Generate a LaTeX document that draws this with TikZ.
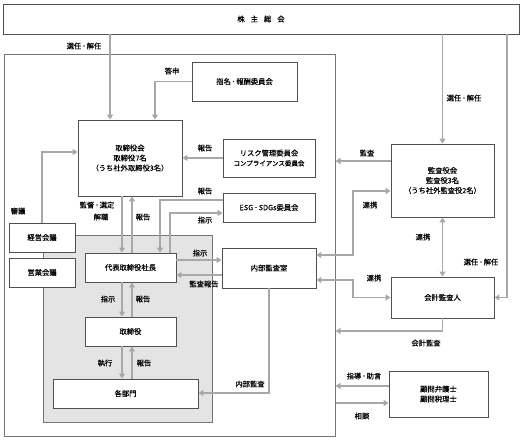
\documentclass[tikz,border=0pt]{standalone}
\usepackage{fontspec}
\newfontfamily\jp[FakeBold=0.35]{Noto Sans CJK JP}
\usetikzlibrary{arrows.meta}
\definecolor{boxc}{HTML}{505050}
\definecolor{outc}{HTML}{767676}
\definecolor{arrc}{HTML}{A8A8A8}
\definecolor{grayfill}{HTML}{E4E4E4}
\newcommand{\nd}{\kern0.9pt･\kern0.9pt}
\begin{document}
\begin{tikzpicture}[x=1pt,y=-1pt,
  box/.style 2 args={draw=boxc, line width=0.9pt, fill=white, minimum width=#1, minimum height=#2, inner sep=0pt, align=center, font=\jp\fontsize{7.3}{10}\selectfont},
  area/.style 2 args={draw=outc, line width=1pt, minimum width=#1, minimum height=#2, inner sep=0pt},
  lab/.style={font=\jp\fontsize{7.3}{9}\selectfont, inner sep=0pt, align=center},
  arr/.style={draw=arrc, line width=1.7pt, -{Triangle[length=5pt,width=6pt]}},
  arrb/.style={draw=arrc, line width=1.7pt, {Triangle[length=5pt,width=6pt]}-{Triangle[length=5pt,width=6pt]}}]
\useasboundingbox (0,0) rectangle (528,443);
% areas
\node[area={331}{382}] (co) at (169.5,246) {};
\node[area={169}{187}, fill=grayfill] (gray) at (127.5,329.5) {};
% boxes
\node[box={516}{30}] (kabu) at (261,19) {株\hspace{6pt}主\hspace{6pt}総\hspace{6pt}会};
\node[box={105}{39}] (shimei) at (244.5,81.5) {指名\nd 報酬委員会};
\node[box={104}{76}] (board) at (130,158) {取締役会\\取締役7名\\（うち社外取締役3名）};
\node[box={92}{38}] (risk) at (269,158) {リスク管理委員会\\{\fontsize{6.5}{8}\selectfont コンプライアンス委員会}};
\node[box={92}{29}] (esg) at (269,207.5) {ESG\nd SDGs委員会};
\node[box={103}{73}] (kansa) at (442.5,180.5) {監査役会\\監査役3名\\（うち社外監査役2名）};
\node[box={66}{29}] (keiei) at (42,237.5) {経営会議};
\node[box={66}{29}] (eigyo) at (42,272.5) {営業会議};
\node[box={91}{29}] (ceo) at (130.5,267.5) {代表取締役社長};
\node[box={94}{40}] (naibu) at (269,268) {内部監査室};
\node[box={103}{41}] (kaikei) at (442.5,297.5) {会計監査人};
\node[box={91}{29}] (director) at (130.5,331.5) {取締役};
\node[box={145}{29}] (bumon) at (125.5,393.5) {各部門};
\node[box={99}{46}] (komon) at (438.5,394) {顧問弁護士\\顧問税理士};
% guide coordinates
\coordinate (gx42) at (42,0);
\coordinate (gx110) at (110,0);
\coordinate (gx122) at (122,0);
\coordinate (gx132) at (132,0);
\coordinate (gx155) at (155,0);
\coordinate (gx160) at (160,0);
\coordinate (gx170) at (170,0);
\coordinate (gx353) at (353,0);
\coordinate (gx507) at (507,0);
\coordinate (gy152) at (0,152);
\coordinate (gy161) at (0,161);
\coordinate (gy191) at (0,191);
\coordinate (gy200) at (0,200);
\coordinate (gy213) at (0,213);
\coordinate (gy255) at (0,255);
\coordinate (gy260) at (0,260);
\coordinate (gy275) at (0,275);
\coordinate (gy280) at (0,280);
\coordinate (gy331) at (0,331);
\coordinate (gy386) at (0,386);
\coordinate (gy393) at (0,393);
\coordinate (gy403) at (0,403);
% connectors
\draw[arr] (kabu.south -| gx110) -- (board.north -| gx110);
\draw[arr] (shimei.west) -| (board.north -| gx155);
\draw[arr] (kabu.south -| kansa.north) -- (kansa.north);
\draw[arr] (kabu.south -| gx507) |- (kaikei.east);
\draw[arr] (risk.west) -- (board.east |- risk.west);
\draw[arr] (esg.west |- gy200) -| (ceo.north -| gx160);
\draw[arr] (ceo.north -| gx170) |- (esg.west |- gy213);
\draw[arr] (board.south -| gx122) -- (ceo.north -| gx122);
\draw[arr] (ceo.north -| gx132) -- (board.south -| gx132);
\draw[arr] (keiei.north -| gx42) |- (board.west |- gy152);
\draw[arr] (kansa.west |- gy161) -- (co.east |- gy161);
\draw[arrb] (kansa.west |- gy191) -| (gx353 |- gy255) -- (naibu.east |- gy255);
\draw[arrb] (kansa.south) -- (kaikei.north);
\draw[arrb] (naibu.east |- gy280) -| (gx353 |- kaikei.west) -- (kaikei.west);
\draw[arr] (kaikei.south) |- (co.east |- gy331);
\draw[arr] (komon.west |- gy386) -- (co.east |- gy386);
\draw[arr] (co.east |- gy403) -- (komon.west |- gy403);
\draw[arr] (ceo.east |- gy260) -- (naibu.west |- gy260);
\draw[arr] (naibu.west |- gy275) -- (ceo.east |- gy275);
\draw[arr] (naibu.south) |- (bumon.east |- gy393);
\draw[arr] (ceo.south -| gx122) -- (director.north -| gx122);
\draw[arr] (director.north -| gx132) -- (ceo.south -| gx132);
\draw[arr] (director.south -| gx122) -- (bumon.north -| gx122);
\draw[arr] (bumon.north -| gx132) -- (director.south -| gx132);
% labels
\node[lab] (l1) at (84,46) {選任\nd 解任};
\node[lab] (l2) at (172,71) {答申};
\node[lab] (l3) at (464,98) {選任\nd 解任};
\node[lab] (l4) at (205,148) {報告};
\node[lab] (l5) at (367,153) {監査};
\node[lab] (l6) at (205,191) {報告};
\node[lab] (l7) at (205,220) {指示};
\node[lab] (l8) at (18,211) {審議};
\node[lab] (l9) at (97,205) {監督\nd 選定};
\node[lab] (l10) at (101,217) {解職};
\node[lab] (l11) at (143,217) {報告};
\node[lab] (l12) at (370,205) {連携};
\node[lab] (l13) at (423,237) {連携};
\node[lab] (l14) at (200,253) {指示};
\node[lab] (l15) at (481,262) {選任\nd 解任};
\node[lab] (l16) at (374,278) {連携};
\node[lab] (l17) at (204,284) {監査報告};
\node[lab] (l18) at (108,299) {指示};
\node[lab] (l19) at (143,299) {報告};
\node[lab] (l20) at (426,343) {会計監査};
\node[lab] (l21) at (105,363) {執行};
\node[lab] (l22) at (144,363) {報告};
\node[lab] (l23) at (364,376) {指導\nd 助言};
\node[lab] (l24) at (250,384) {内部監査};
\node[lab] (l25) at (362,416) {相談};
\end{tikzpicture}
\end{document}
